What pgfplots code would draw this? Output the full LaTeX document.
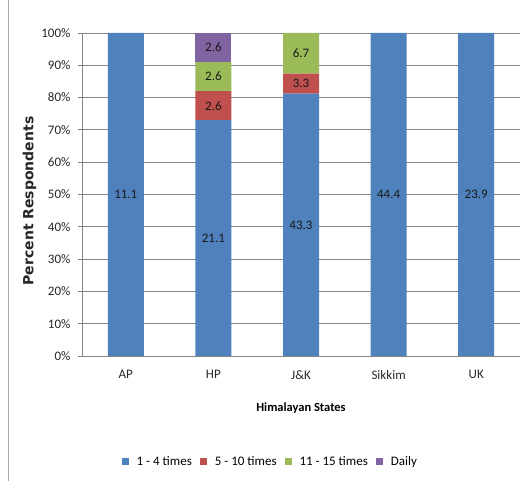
\documentclass[border=0pt]{standalone}
\usepackage{pgfplots}
\usepackage{pgfplotstable}
\pgfplotsset{compat=1.18}
\usepackage{fontspec}
\setmainfont{Carlito}
\newfontfamily\ylabfont{DejaVu Sans}
\definecolor{c1}{HTML}{4F81BD}
\definecolor{c2}{HTML}{C0504D}
\definecolor{c3}{HTML}{9BBB59}
\definecolor{c4}{HTML}{8064A2}
\definecolor{gridc}{HTML}{868686}
\pgfplotstableread{
x y lab
0 100 11.1
1 73.0 21.1
2 81.2 43.3
3 100 44.4
4 100 23.9
}\tA
\pgfplotstableread{
x y lab
0 0 none
1 9.0 2.6
2 6.2 3.3
3 0 none
4 0 none
}\tB
\pgfplotstableread{
x y lab
0 0 none
1 9.0 2.6
2 12.6 6.7
3 0 none
4 0 none
}\tC
\pgfplotstableread{
x y lab
0 0 none
1 9.0 2.6
2 0 none
3 0 none
4 0 none
}\tD
\def\nonestr{none}
\begin{document}
\fontsize{13pt}{15pt}\selectfont
\begin{tikzpicture}
\path[use as bounding box] (-82pt,-130pt) rectangle (447pt,356pt);
\begin{axis}[
  at={(0,0)}, anchor=south west,
  width=438pt, height=323pt, scale only axis,
  ybar stacked, bar width=36pt,
  xmin=-0.5, xmax=4.5, ymin=0, ymax=100,
  xtick={0,1,2,3,4}, xticklabels={AP,HP,J\&K,Sikkim,UK},
  major x tick style={draw=none},
  extra x ticks={0.5,1.5,2.5,3.5},
  extra x tick labels={},
  extra x tick style={major tick length=5pt, tick style={draw=gridc}, grid=none},
  ytick={0,10,...,100},
  yticklabel={\pgfmathprintnumber{\tick}\%},
  /pgf/number format/assume math mode=true,
  ymajorgrids, grid style={gridc, line width=0.8pt},
  axis x line*=bottom, axis y line*=left,
  axis line style={gridc, line width=0.8pt},
  tick align=outside, major tick length=4pt,
  tick style={gridc, line width=0.8pt},
  ticklabel style={font=\fontsize{13pt}{15pt}\selectfont, text=black!85},
  yticklabel style={xshift=-3pt},
  xticklabel style={yshift=-6pt},
  xlabel={\bfseries Himalayan States},
  ylabel={\ylabfont\bfseries Percent Respondents},
  xlabel style={font=\fontsize{12.5pt}{14pt}\selectfont, at={(axis description cs:0.5,-0.16)}, anchor=center},
  ylabel style={font=\fontsize{14pt}{16pt}\selectfont, at={(axis description cs:-0.12,0.48)}, anchor=center, text=black!85},
  point meta=explicit symbolic,
  nodes near coords={\edef\m{\pgfplotspointmeta}\ifx\m\nonestr\else\m\fi},
  every node near coord/.append style={anchor=center, font=\fontsize{13pt}{15pt}\selectfont, text=black!90},
  legend columns=4,
  legend style={draw=none, fill=none, at={(0.43,-0.328)}, anchor=center,
    font=\fontsize{13pt}{15pt}\selectfont, column sep=6pt},
  legend image code/.code={\fill[#1] (0pt,-3.5pt) rectangle (7pt,3.5pt);},
]
\addplot[fill=c1, draw=none] table[x=x, y=y, meta=lab] {\tA};
\addplot[fill=c2, draw=none] table[x=x, y=y, meta=lab] {\tB};
\addplot[fill=c3, draw=none] table[x=x, y=y, meta=lab] {\tC};
\addplot[fill=c4, draw=none] table[x=x, y=y, meta=lab] {\tD};
\legend{1 - 4 times, 5 - 10 times, 11 - 15 times, Daily}
\end{axis}
\draw[gridc!70, line width=0.8pt] (-74pt,-125pt) -- (-74pt,356pt);
\end{tikzpicture}
\end{document}
